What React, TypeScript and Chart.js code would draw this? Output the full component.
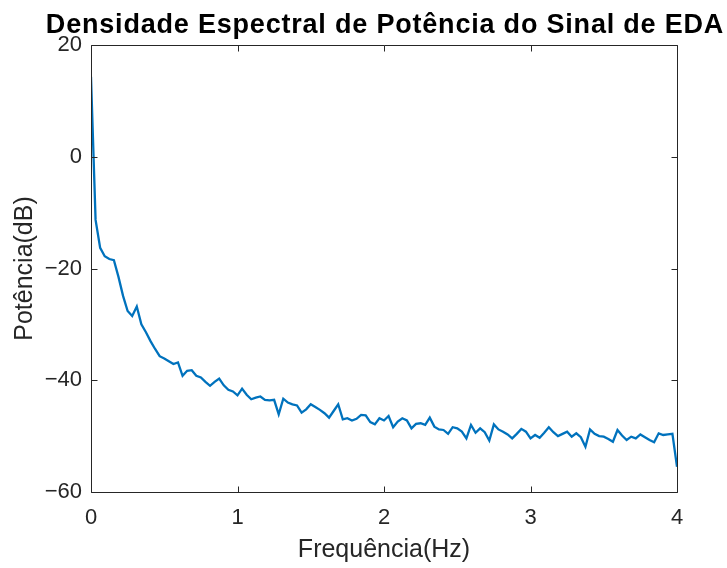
import React, { useEffect, useRef } from "react";
import { Chart, registerables } from "chart.js";

Chart.register(...registerables);

const TITLE = "Densidade Espectral de Potência do Sinal de EDA";
const X_LABEL = "Frequência(Hz)";
const Y_LABEL = "Potência(dB)";

// frequency resolution of the spectrum (Hz per bin), 129 bins from 0 to 4 Hz
const FREQ_STEP_HZ = 0.03125;

const POWER_DB = [
  14.3, -11.3, -16.3, -17.8, -18.3, -18.5, -21.5, -24.9, -27.6, -28.5,
  -26.8, -30.0, -31.4, -33.0, -34.4, -35.7, -36.1, -36.6, -37.1, -36.8,
  -39.2, -38.3, -38.2, -39.2, -39.5, -40.3, -41.0, -40.3, -39.7, -40.9,
  -41.7, -42.0, -42.7, -41.5, -42.6, -43.4, -43.1, -42.9, -43.5, -43.6,
  -43.5, -46.1, -43.3, -44.0, -44.3, -44.5, -45.8, -45.2, -44.3, -44.8,
  -45.3, -45.9, -46.7, -45.5, -44.3, -47.0, -46.8, -47.2, -46.9, -46.2,
  -46.3, -47.5, -47.9, -46.8, -47.2, -46.4, -48.4, -47.4, -46.8, -47.2,
  -48.6, -47.8, -47.7, -48.0, -46.7, -48.3, -48.8, -48.9, -49.6, -48.4,
  -48.6, -49.2, -50.4, -48.0, -49.4, -48.6, -49.3, -50.8, -47.9, -48.8,
  -49.2, -49.7, -50.4, -49.6, -48.7, -49.2, -50.4, -49.8, -50.3, -49.4,
  -48.4, -49.3, -50.0, -49.6, -49.2, -50.1, -49.5, -50.2, -51.9, -48.8,
  -49.6, -50.0, -50.1, -50.5, -51.0, -48.9, -49.9, -50.7, -50.1, -50.4,
  -49.7, -50.2, -50.7, -51.1, -49.5, -49.8, -49.7, -49.6, -55.5,
];

const X_TICKS = [0, 1, 2, 3, 4];
const Y_TICKS = [-60, -40, -20, 0, 20];

const AXIS_COLOR = "#262626";
const LINE_COLOR = "#0072BD";
const FONT = "'Liberation Sans', Arial, Helvetica, sans-serif";

const fmt = (v: any) => String(v).replace("-", "\u2212");

const matlabAxesPlugin = {
  id: "matlabAxes",
  afterDatasetsDraw(chart: any) {
    const { ctx, chartArea: a, scales } = chart;
    ctx.save();
    ctx.strokeStyle = AXIS_COLOR;
    ctx.lineWidth = 1;
    const l = Math.round(a.left) + 0.5;
    const r = Math.round(a.right) + 0.5;
    const t = Math.round(a.top) + 0.5;
    const b = Math.round(a.bottom) + 0.5;
    ctx.beginPath();
    ctx.moveTo(l, t);
    ctx.lineTo(r, t);
    ctx.lineTo(r, b);
    ctx.lineTo(l, b);
    ctx.closePath();
    const L = 6;
    for (const v of X_TICKS) {
      const px = Math.round(scales.x.getPixelForValue(v)) + 0.5;
      ctx.moveTo(px, b);
      ctx.lineTo(px, b - L);
      ctx.moveTo(px, t);
      ctx.lineTo(px, t + L);
    }
    for (const v of Y_TICKS) {
      const py = Math.round(scales.y.getPixelForValue(v)) + 0.5;
      ctx.moveTo(l, py);
      ctx.lineTo(l + L, py);
      ctx.moveTo(r, py);
      ctx.lineTo(r - L, py);
    }
    ctx.stroke();

    // title centred over the axes box
    ctx.fillStyle = "#000000";
    ctx.font = `bold 27px ${FONT}`;
    try {
      (ctx as any).letterSpacing = "0.8px";
    } catch (e) {}
    ctx.textAlign = "center";
    ctx.textBaseline = "alphabetic";
    ctx.fillText(TITLE, (a.left + a.right) / 2 + 1, 33);
    try {
      (ctx as any).letterSpacing = "0px";
    } catch (e) {}
    ctx.restore();
  },
};

export default function App() {
  const canvasRef = useRef<HTMLCanvasElement | null>(null);

  useEffect(() => {
    const canvas = canvasRef.current;
    if (!canvas) return;
    const points = POWER_DB.map((v, i) => ({ x: i * FREQ_STEP_HZ, y: v }));
    const chart = new Chart(canvas, {
      type: "line",
      data: {
        datasets: [
          {
            data: points,
            borderColor: LINE_COLOR,
            borderWidth: 2.3,
            pointRadius: 0,
            tension: 0,
            fill: false,
          },
        ],
      },
      options: {
        animation: false,
        responsive: false,
        devicePixelRatio: 1,
        layout: { padding: { top: 45, right: 50, bottom: 0, left: 0 } },
        plugins: {
          legend: { display: false },
          title: { display: false },
          tooltip: { enabled: false },
        },
        scales: {
          x: {
            type: "linear",
            min: 0,
            max: 4,
            afterBuildTicks: (s: any) => {
              s.ticks = X_TICKS.map((v) => ({ value: v }));
            },
            afterFit: (s: any) => {
              s.height = 76;
            },
            grid: { display: false, drawTicks: false },
            border: { display: false },
            ticks: {
              color: AXIS_COLOR,
              font: { family: FONT, size: 22 },
              padding: 13,
              maxRotation: 0,
              callback: fmt,
            },
            title: {
              display: true,
              text: X_LABEL,
              color: AXIS_COLOR,
              font: { family: FONT, size: 25 },
              padding: { top: 0, bottom: 3 },
            },
          },
          y: {
            type: "linear",
            min: -60,
            max: 20,
            afterBuildTicks: (s: any) => {
              s.ticks = Y_TICKS.map((v) => ({ value: v }));
            },
            afterFit: (s: any) => {
              s.width = 91;
            },
            grid: { display: false, drawTicks: false },
            border: { display: false },
            ticks: {
              color: AXIS_COLOR,
              font: { family: FONT, size: 22 },
              padding: 9,
              callback: fmt,
            },
            title: {
              display: true,
              text: Y_LABEL,
              color: AXIS_COLOR,
              font: { family: FONT, size: 25 },
              padding: { top: 10, bottom: 0 },
            },
          },
        },
      },
      plugins: [matlabAxesPlugin],
    });
    return () => chart.destroy();
  }, []);

  return (
    <div style={{ position: "absolute", left: 0, top: 0, width: 727, height: 568, background: "#ffffff" }}>
      <canvas ref={canvasRef} width={727} height={568} style={{ display: "block" }} />
    </div>
  );
}
